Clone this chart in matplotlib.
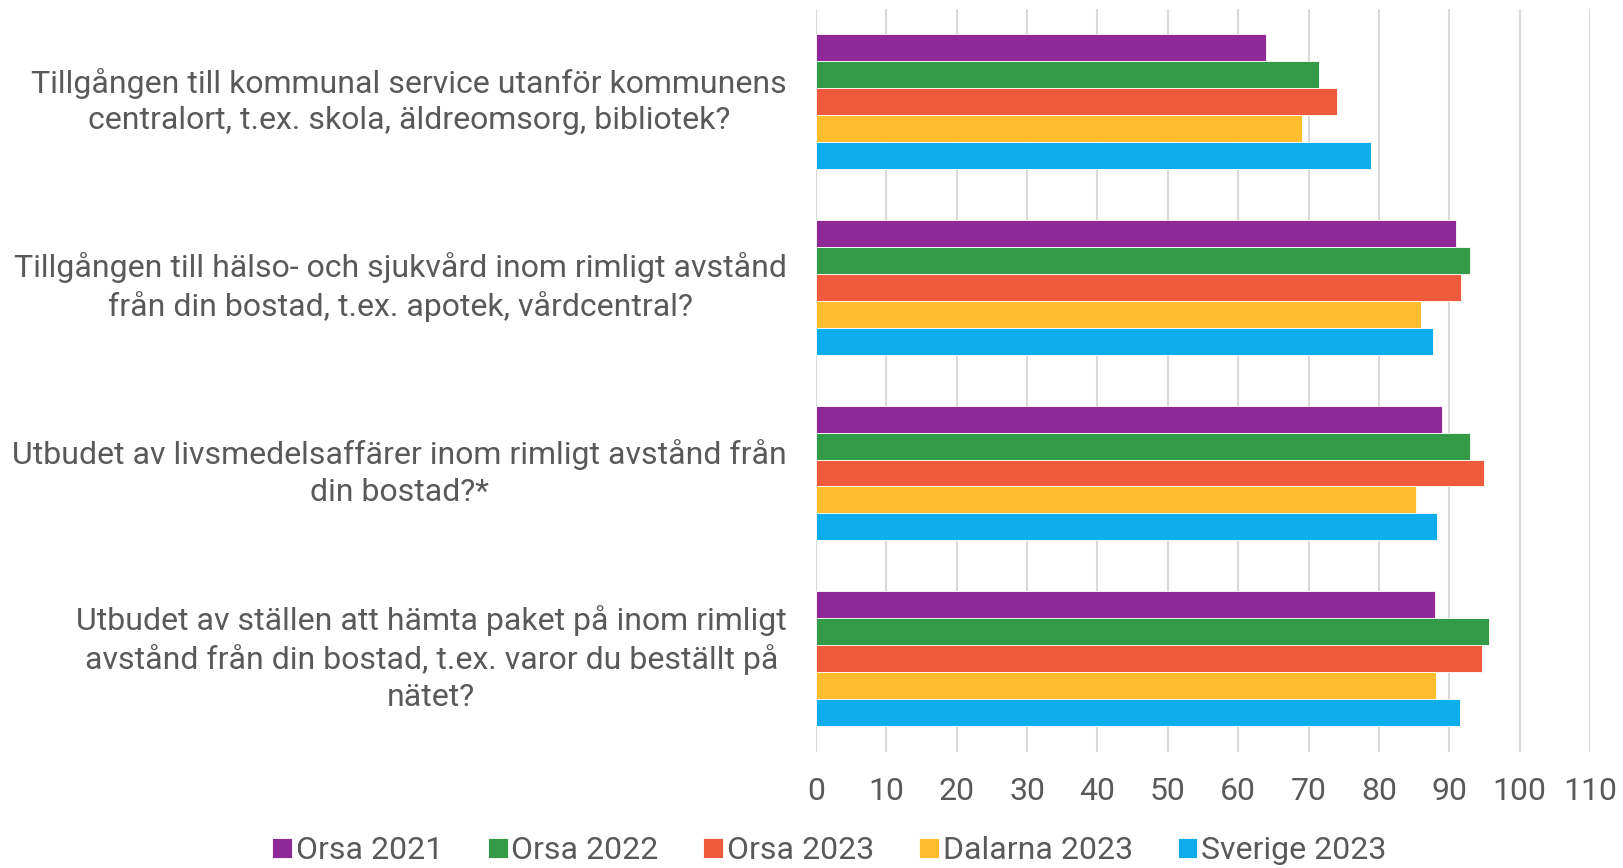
import matplotlib
matplotlib.use("Agg")
import matplotlib.pyplot as plt
import numpy as np

categories = [
    "Tillgången till kommunal service utanför kommunens\ncentralort, t.ex. skola, äldreomsorg, bibliotek?",
    "Tillgången till hälso- och sjukvård inom rimligt avstånd\nfrån din bostad, t.ex. apotek, vårdcentral?",
    "Utbudet av livsmedelsaffärer inom rimligt avstånd från\ndin bostad?*",
    "Utbudet av ställen att hämta paket på inom rimligt\navstånd från din bostad, t.ex. varor du beställt på\nnätet?",
]
series_names = ["Orsa 2021", "Orsa 2022", "Orsa 2023", "Dalarna 2023", "Sverige 2023"]
orsa_2021 = [64.0, 90.9, 89.0, 88.0]
orsa_2022 = [71.5, 92.9, 93.0, 95.6]
orsa_2023 = [74.0, 91.7, 95.0, 94.7]
dalarna_2023 = [69.1, 86.0, 85.3, 88.1]
sverige_2023 = [78.9, 87.7, 88.3, 91.5]
x_ticks = [0, 10, 20, 30, 40, 50, 60, 70, 80, 90, 100, 110]

colors = ["#90289A", "#339B47", "#EF5A3C", "#FFBD2E", "#0DAEEB"]
text_color = "#595959"

plt.rcParams['font.family'] = ['Roboto', 'DejaVu Sans']
FS = 23

fig = plt.figure(figsize=(16.23, 8.68), dpi=100)
ax = fig.add_axes([816 / 1623, 1 - 751.5 / 868, (1590 - 816) / 1623, (751.5 - 8.8) / 868])

all_series = [orsa_2021, orsa_2022, orsa_2023, dalarna_2023, sverige_2023]
n = len(all_series)
group = 0.724
h = group / n
y = np.arange(len(categories))
for i, (vals, name, c) in enumerate(zip(all_series, series_names, colors)):
    ax.barh(y - group / 2 + h * (i + 0.5), vals, height=h, color=c, label=name,
            edgecolor='white', linewidth=0.6, zorder=3)

ax.set_xlim(0, 110)
ax.set_ylim(len(categories) - 0.5, -0.5)
ax.set_xticks(x_ticks)
ax.set_xticklabels([str(t) for t in x_ticks])
ax.grid(axis='x', color='#D9D9D9', linewidth=1.5, zorder=0)
ax.grid(axis='y', visible=False)
for s in ['top', 'right', 'bottom', 'left']:
    ax.spines[s].set_visible(False)
ax.tick_params(axis='both', length=0, colors=text_color, labelsize=FS)
ax.tick_params(axis='x', pad=18)
ax.set_yticks(y)
ax.set_yticklabels([])
for yi, lab in zip(y, categories):
    ax.text(-0.038, yi, lab, transform=ax.get_yaxis_transform(), ha='right', va='center',
            multialignment='center', fontsize=FS, color=text_color, linespacing=1.33)

leg = fig.legend(loc='center', bbox_to_anchor=(0.511, 0.02), ncol=5, frameon=False,
                 fontsize=FS, handlelength=0.62, handleheight=0.62, handletextpad=0.12,
                 columnspacing=1.4, labelcolor=text_color)
fig.savefig("out.png", dpi=100)
